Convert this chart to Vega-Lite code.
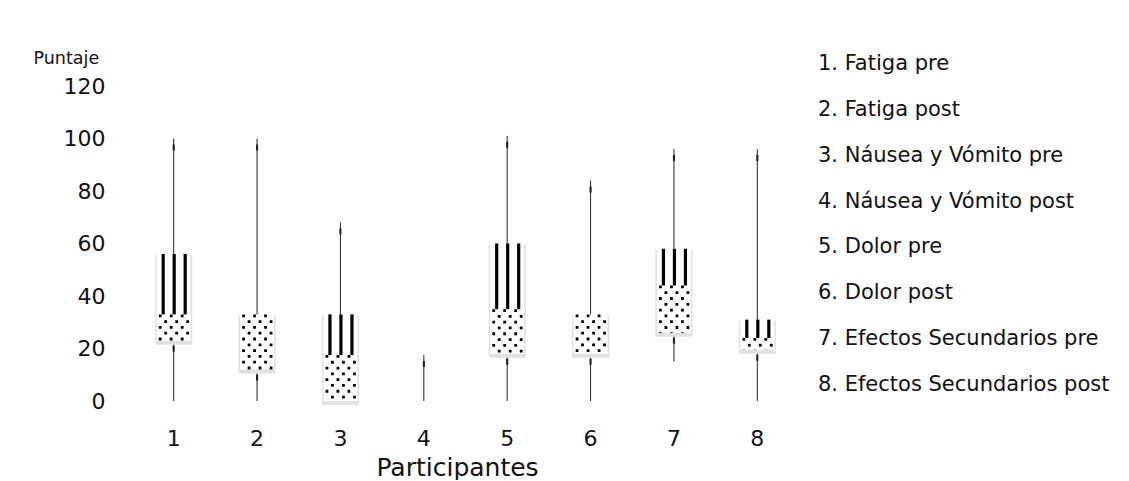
{
  "$schema": "https://vega.github.io/schema/vega-lite/v6.json",
  "padding": {"left": 33, "top": 49, "right": 0, "bottom": 0},
  "config": {"view": {"stroke": null}, "font": "DejaVu Sans", "concat": {"spacing": 19}},
  "datasets": {
    "cajas": [
      {"grupo": "1", "min": 0, "q1": 23, "mediana": 33, "q3": 56, "max": 100},
      {"grupo": "2", "min": 0, "q1": 12, "mediana": 33, "q3": 33, "max": 100},
      {"grupo": "3", "min": 0, "q1": 0, "mediana": 17.5, "q3": 33, "max": 68},
      {"grupo": "4", "min": 0, "q1": 0, "mediana": 0, "q3": 0, "max": 17.5},
      {"grupo": "5", "min": 0, "q1": 18, "mediana": 35, "q3": 60, "max": 101},
      {"grupo": "6", "min": 0, "q1": 18, "mediana": 33, "q3": 33, "max": 84},
      {"grupo": "7", "min": 15, "q1": 26, "mediana": 44, "q3": 58, "max": 96},
      {"grupo": "8", "min": 0, "q1": 19.5, "mediana": 24, "q3": 31, "max": 96}
    ],
    "leyenda": [
      {"orden": 1, "etiqueta": "1. Fatiga pre"},
      {"orden": 2, "etiqueta": "2. Fatiga post"},
      {"orden": 3, "etiqueta": "3. Náusea y Vómito pre"},
      {"orden": 4, "etiqueta": "4. Náusea y Vómito post"},
      {"orden": 5, "etiqueta": "5. Dolor pre"},
      {"orden": 6, "etiqueta": "6. Dolor post"},
      {"orden": 7, "etiqueta": "7. Efectos Secundarios pre"},
      {"orden": 8, "etiqueta": "8. Efectos Secundarios post"}
    ]
  },
  "hconcat": [
    {
      "width": 667,
      "height": 315,
      "data": {"name": "cajas"},
      "encoding": {
        "x": {
          "field": "grupo", "type": "ordinal",
          "scale": {"paddingInner": 0, "paddingOuter": 0},
          "axis": {
            "title": "Participantes", "labelAngle": 0, "domain": false, "ticks": false,
            "labelFontSize": 22, "labelPadding": 27, "labelColor": "#111",
            "titleFontSize": 25, "titleFontWeight": "normal", "titlePadding": 6, "titleColor": "#111",
            "titleX": 325, "titleAnchor": "middle"
          }
        }
      },
      "layer": [
        {
          "mark": {"type": "rule", "color": "#222", "strokeWidth": 1},
          "encoding": {
            "y": {
              "field": "min", "type": "quantitative",
              "scale": {"domain": [0, 120], "nice": false},
              "axis": {
                "values": [0, 20, 40, 60, 80, 100, 120], "grid": false, "domain": false, "ticks": false,
                "labelFontSize": 22, "labelPadding": 27, "labelColor": "#111",
                "title": "Puntaje", "titleAngle": 0, "titleAlign": "left", "titleBaseline": "middle",
                "titleX": -99, "titleY": -28, "titleFontSize": 17.5, "titleFontWeight": "normal", "titleColor": "#111"
              }
            },
            "y2": {"field": "max"}
          }
        },
        {
          "transform": [{"filter": "datum.q3 > datum.q1"}],
          "mark": {"type": "bar", "color": "#e0e0e0", "size": 37, "yOffset": 1, "y2Offset": 4},
          "encoding": {"y": {"field": "q3", "type": "quantitative"}, "y2": {"field": "q1"}}
        },
        {
          "transform": [{"filter": "datum.q3 > datum.q1"}],
          "mark": {"type": "bar", "color": "#ffffff", "size": 34},
          "encoding": {"y": {"field": "q3", "type": "quantitative"}, "y2": {"field": "q1"}}
        },
        {
          "mark": {"type": "rule", "color": "#000", "strokeWidth": 3.2, "xOffset": -10.5},
          "encoding": {"y": {"field": "q3", "type": "quantitative"}, "y2": {"field": "mediana"}}
        },
        {
          "mark": {"type": "rule", "color": "#000", "strokeWidth": 3.2, "xOffset": 0.5},
          "encoding": {"y": {"field": "q3", "type": "quantitative"}, "y2": {"field": "mediana"}}
        },
        {
          "mark": {"type": "rule", "color": "#000", "strokeWidth": 3.2, "xOffset": 11.5},
          "encoding": {"y": {"field": "q3", "type": "quantitative"}, "y2": {"field": "mediana"}}
        },
        {
          "mark": {"type": "rule", "color": "#000", "strokeWidth": 2.8, "strokeDash": [2.8, 8.8], "strokeDashOffset": 0, "xOffset": -13.5},
          "encoding": {"y": {"field": "mediana", "type": "quantitative"}, "y2": {"field": "q1"}}
        },
        {
          "mark": {"type": "rule", "color": "#000", "strokeWidth": 2.8, "strokeDash": [2.8, 8.8], "strokeDashOffset": 5.8, "xOffset": -8},
          "encoding": {"y": {"field": "mediana", "type": "quantitative"}, "y2": {"field": "q1"}}
        },
        {
          "mark": {"type": "rule", "color": "#000", "strokeWidth": 2.8, "strokeDash": [2.8, 8.8], "strokeDashOffset": 0, "xOffset": -2.5},
          "encoding": {"y": {"field": "mediana", "type": "quantitative"}, "y2": {"field": "q1"}}
        },
        {
          "mark": {"type": "rule", "color": "#000", "strokeWidth": 2.8, "strokeDash": [2.8, 8.8], "strokeDashOffset": 5.8, "xOffset": 3},
          "encoding": {"y": {"field": "mediana", "type": "quantitative"}, "y2": {"field": "q1"}}
        },
        {
          "mark": {"type": "rule", "color": "#000", "strokeWidth": 2.8, "strokeDash": [2.8, 8.8], "strokeDashOffset": 0, "xOffset": 8.5},
          "encoding": {"y": {"field": "mediana", "type": "quantitative"}, "y2": {"field": "q1"}}
        },
        {
          "mark": {"type": "rule", "color": "#000", "strokeWidth": 2.8, "strokeDash": [2.8, 8.8], "strokeDashOffset": 5.8, "xOffset": 14},
          "encoding": {"y": {"field": "mediana", "type": "quantitative"}, "y2": {"field": "q1"}}
        },
        {
          "mark": {"type": "point", "shape": "M-0.35,-1L0.35,-1L0.35,1L-0.35,1Z", "size": 36, "filled": true, "color": "#222", "opacity": 1, "yOffset": 9},
          "encoding": {"y": {"field": "max", "type": "quantitative"}}
        },
        {
          "transform": [{"filter": "datum.q1 > datum.min"}],
          "mark": {"type": "point", "shape": "M-0.35,-1L0.35,-1L0.35,1L-0.35,1Z", "size": 36, "filled": true, "color": "#222", "opacity": 1, "yOffset": 8},
          "encoding": {"y": {"field": "q1", "type": "quantitative"}}
        }
      ]
    },
    {
      "width": 310,
      "height": 315,
      "data": {"name": "leyenda"},
      "mark": {"type": "text", "align": "left", "baseline": "middle", "fontSize": 21, "color": "#111", "x": 0},
      "encoding": {
        "y": {"field": "etiqueta", "type": "ordinal", "sort": {"field": "orden"}, "scale": {"type": "point", "padding": 0, "range": [-22, 299]}, "axis": null},
        "text": {"field": "etiqueta"}
      }
    }
  ]
}
